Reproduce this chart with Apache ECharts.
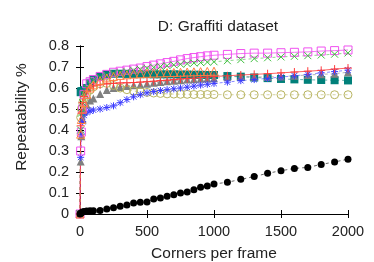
<!DOCTYPE html>
<html><head><meta charset="utf-8">
<script src="https://cdn.jsdelivr.net/npm/echarts@6/dist/echarts.min.js"></script>
<style>html,body{margin:0;padding:0;background:#fff}#c{width:374px;height:262px}</style>
</head><body><div id="c"></div>
<script>
const xs = [0,5,10,20,30,50,75,100,150,200,250,300,350,400,450,500,550,600,650,700,750,800,850,900,950,1000,1100,1200,1300,1400,1500,1600,1700,1800,1900,2000];
const teal = [0,0.58,0.585,0.585,0.59,0.6,0.625,0.64,0.655,0.665,0.668,0.668,0.667,0.667,0.666,0.666,0.665,0.665,0.665,0.665,0.664,0.664,0.663,0.663,0.662,0.662,0.657,0.654,0.65,0.647,0.643,0.641,0.639,0.638,0.637,0.636];
const gray = [0,0.25,0.37,0.45,0.49,0.52,0.54,0.55,0.572,0.59,0.6,0.605,0.61,0.613,0.616,0.62,0.625,0.628,0.632,0.635,0.637,0.64,0.642,0.644,0.645,0.647,0.652,0.655,0.653,0.652,0.655,0.658,0.662,0.665,0.668,0.675];
const olive = [0,0.46,0.5,0.53,0.55,0.57,0.59,0.605,0.62,0.622,0.612,0.6,0.592,0.586,0.582,0.579,0.576,0.574,0.572,0.571,0.57,0.57,0.569,0.569,0.569,0.569,0.568,0.568,0.568,0.568,0.568,0.568,0.568,0.568,0.568,0.568];
const blue = [0,0.27,0.38,0.44,0.47,0.485,0.49,0.495,0.5,0.507,0.515,0.53,0.545,0.558,0.568,0.577,0.583,0.588,0.592,0.596,0.6,0.604,0.609,0.614,0.618,0.622,0.628,0.635,0.64,0.646,0.652,0.658,0.665,0.672,0.678,0.685];
const magenta = [0,0.3,0.39,0.5,0.57,0.62,0.63,0.64,0.655,0.665,0.675,0.68,0.685,0.69,0.695,0.702,0.709,0.715,0.721,0.727,0.734,0.74,0.745,0.749,0.753,0.756,0.76,0.764,0.766,0.766,0.768,0.77,0.772,0.776,0.778,0.781];
const green = [0,0.4,0.48,0.53,0.57,0.6,0.62,0.635,0.65,0.66,0.668,0.673,0.678,0.684,0.689,0.694,0.698,0.702,0.706,0.71,0.713,0.716,0.719,0.721,0.723,0.725,0.73,0.735,0.74,0.744,0.748,0.751,0.754,0.757,0.761,0.767];
const red = [0,0.42,0.48,0.53,0.56,0.585,0.6,0.61,0.615,0.62,0.622,0.624,0.625,0.626,0.628,0.63,0.632,0.635,0.637,0.64,0.643,0.645,0.647,0.65,0.652,0.655,0.658,0.662,0.665,0.668,0.672,0.676,0.68,0.684,0.69,0.695];
const orange = [0,0.38,0.45,0.5,0.53,0.57,0.6,0.615,0.635,0.648,0.655,0.66,0.663,0.666,0.668,0.67,0.671,0.672,0.673,0.674,0.675,0.676,0.677,0.678,0.679,0.68];
const black = [0,0.003,0.006,0.009,0.012,0.014,0.015,0.016,0.017,0.024,0.03,0.037,0.043,0.052,0.056,0.057,0.071,0.076,0.085,0.092,0.1,0.105,0.115,0.127,0.133,0.143,0.151,0.165,0.178,0.194,0.206,0.217,0.222,0.236,0.248,0.261];
const xTicks = ['0','500','1000','1500','2000'];
const yTicks = ['0','0.1','0.2','0.3','0.4','0.5','0.6','0.7','0.8'];

const PLUS='path://M5,0L5,10M0,5L10,5';
const CROSS='path://M0,0L10,10M10,0L0,10';
const STAR='path://M5,0L5,10M0,5L10,5M1,1L9,9M9,1L1,9';
const FONT='Liberation Sans, Arial, sans-serif';

function mk(vals, color, symbol, size, hollow, dashed){
  return {
    type:'line', data: vals.map((v,i)=>[xs[i], v]),
    symbol: symbol, symbolSize: size, showAllSymbol:true,
    lineStyle:{color:color, width:1, type: dashed ? [3,3] : 'solid', opacity: dashed?0.6:0.8},
    itemStyle: hollow ? {color:'rgba(0,0,0,0)', borderColor:color, borderWidth:1}
                      : {color:color, borderColor:color, borderWidth:0},
    emphasis:{disabled:true}, z:2
  };
}
const axisLine={show:true,lineStyle:{color:'#000',width:1}};
const chart = echarts.init(document.getElementById('c'));
chart.setOption({
  animation:false,
  backgroundColor:'#fff',
  title:{text:'D: Graffiti dataset', left:213, top:14, textAlign:'center',
    textStyle:{fontFamily:FONT,fontSize:15.5,fontWeight:'normal',color:'#222'}},
  grid:{left:80,right:26,top:46,bottom:48,containLabel:false,outerBoundsMode:'none'},
  xAxis:[{type:'value',min:0,max:2000,interval:500,position:'bottom',
    name:'Corners per frame',nameLocation:'middle',nameGap:32,
    nameTextStyle:{fontFamily:FONT,fontSize:15.5,color:'#222'},
    axisLine:axisLine,axisTick:{inside:true,length:4,lineStyle:{color:'#000'}},
    axisLabel:{fontFamily:FONT,fontSize:14.5,color:'#222',margin:10,
      formatter:(v)=>xTicks[Math.round(v/500)]},splitLine:{show:false}},
   {type:'value',min:0,max:2000,interval:500,position:'top',
    axisLine:axisLine,axisTick:{inside:true,length:4,lineStyle:{color:'#000'}},
    axisLabel:{show:false},splitLine:{show:false}}],
  yAxis:[{type:'value',min:0,max:0.8,interval:0.1,position:'left',
    name:'Repeatability %',nameLocation:'middle',nameGap:50,
    nameTextStyle:{fontFamily:FONT,fontSize:15.5,color:'#222',padding:[0,0,0,26]},
    axisLine:axisLine,axisTick:{inside:true,length:4,lineStyle:{color:'#000'}},
    axisLabel:{fontFamily:FONT,fontSize:14.5,color:'#222',margin:11,
      formatter:(v)=>yTicks[Math.round(v*10)]},splitLine:{show:false}},
   {type:'value',min:0,max:0.8,interval:0.1,position:'right',
    axisLine:axisLine,axisTick:{inside:true,length:4,lineStyle:{color:'#000'}},
    axisLabel:{show:false},splitLine:{show:false}}],
  series:[
    mk(teal,'#00807a','rect',8,false,true),
    mk(gray,'#808080','triangle',8,false,true),
    mk(olive,'#b8b460','circle',8,true,true),
    mk(blue,'#3a3aff',STAR,7,true,true),
    mk(magenta,'#f050f0','rect',8,true,false),
    mk(green,'#40c040',CROSS,7,true,true),
    mk(red,'#ff3a3a',PLUS,8,true,false),
    mk(orange,'#ff8040','triangle',8,true,true),
    mk(black,'#000000','circle',7,false,true)
  ]
});
</script></body></html>
